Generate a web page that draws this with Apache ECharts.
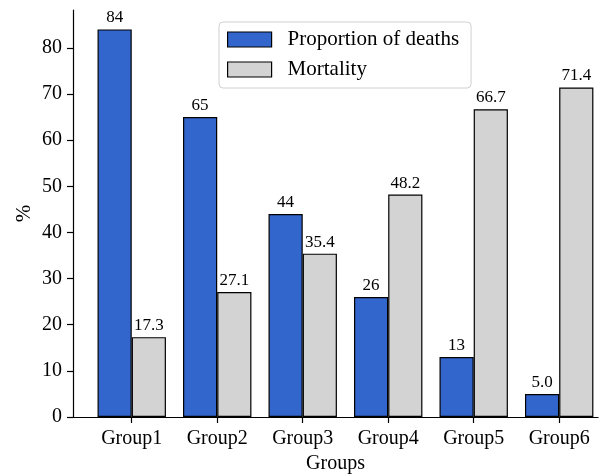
<!DOCTYPE html>
<html>
<head>
<meta charset="utf-8">
<script src="https://cdn.jsdelivr.net/npm/echarts@6/dist/echarts.min.js"></script>
<style>
html,body{margin:0;padding:0;background:#fff;}
#main{width:611px;height:474px;}
</style>
</head>
<body>
<div id="main"></div>
<script>
var groups=['Group1','Group2','Group3','Group4','Group5','Group6'];
var deaths=[84,65,44,26,13,5.0];
var deathLabels=['84','65','44','26','13','5.0'];
var mortality=[17.3,27.1,35.4,48.2,66.7,71.4];
var mortalityLabels=['17.3','27.1','35.4','48.2','66.7','71.4'];
var yTicks=[0,10,20,30,40,50,60,70,80];

var font='"Liberation Serif","DejaVu Serif",serif';
var chart=echarts.init(document.getElementById('main'));

var pos=groups.map(function(g,i){return i;});
var mk=function(vals){
	return vals.map(function(v,i){return [i,v];});
};

var option={
	animation:false,
	grid:{left:73,right:13,top:10,bottom:57,outerBoundsMode:'none'},
	legend:{
		orient:'vertical',
		left:219,
		top:22,
		padding:[7,12,8,8],
		itemWidth:44,
		itemHeight:15,
		icon:'rect',
		itemGap:9,
		itemStyle:{borderColor:'#000',borderWidth:1.2},
		borderColor:'#d0d0d0',
		borderWidth:1,
		borderRadius:4,
		backgroundColor:'#fff',
		textStyle:{fontFamily:font,fontSize:21,color:'#000',padding:[0,0,0,11]},
		data:['Proportion of deaths','Mortality']
	},
	xAxis:{
		type:'value',
		min:-0.687,
		max:5.454,
		name:'Groups',
		nameLocation:'middle',
		nameGap:36,
		nameTextStyle:{fontFamily:font,fontSize:20,color:'#000'},
		splitLine:{show:false},
		axisLine:{show:true,onZero:false,lineStyle:{color:'#000',width:1.2}},
		axisTick:{show:true,customValues:pos,length:6,lineStyle:{color:'#000',width:1.2}},
		axisLabel:{
			customValues:pos,
			fontFamily:font,fontSize:20,color:'#000',margin:12,
			formatter:function(v){return groups[Math.round(v)];}
		}
	},
	yAxis:{
		type:'value',
		min:0,
		max:88.2,
		name:'%',
		nameLocation:'middle',
		nameGap:38,
		nameMoveOverlap:false,
		nameTextStyle:{fontFamily:font,fontSize:21,color:'#000'},
		splitLine:{show:false},
		axisLine:{show:true,onZero:false,lineStyle:{color:'#000',width:1.2}},
		axisTick:{show:true,customValues:yTicks,length:6,lineStyle:{color:'#000',width:1.2}},
		axisLabel:{customValues:yTicks,fontFamily:font,fontSize:20,color:'#000',margin:11}
	},
	series:[
		{
			name:'Proportion of deaths',
			type:'bar',
			data:mk(deaths),
			barWidth:34.2,
			barGap:'0%',
			itemStyle:{color:'#3366cc',borderColor:'#000',borderWidth:1.2},
			label:{
				show:true,position:'top',distance:3,
				fontFamily:font,fontSize:17,color:'#000',
				formatter:function(p){return deathLabels[p.dataIndex];}
			}
		},
		{
			name:'Mortality',
			type:'bar',
			data:mk(mortality),
			barWidth:34.2,
			barGap:'0%',
			itemStyle:{color:'#d3d3d3',borderColor:'#000',borderWidth:1.2},
			label:{
				show:true,position:'top',distance:3,
				fontFamily:font,fontSize:17,color:'#000',
				formatter:function(p){return mortalityLabels[p.dataIndex];}
			}
		}
	]
};
chart.setOption(option);
</script>
</body>
</html>
